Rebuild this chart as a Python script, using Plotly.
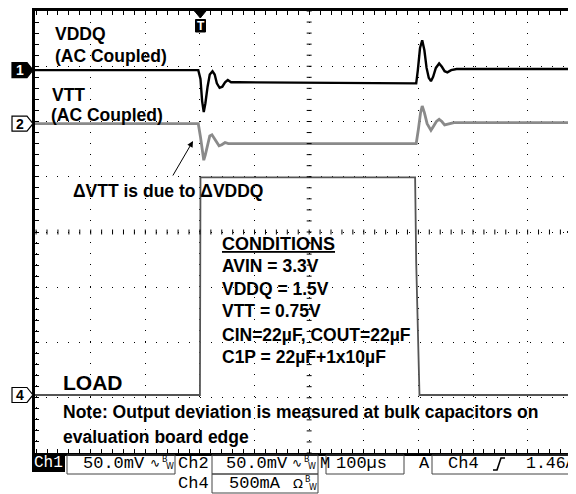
import plotly.graph_objects as go

# ---------------- data read from the scope screen ----------------
# time in microseconds relative to the trigger (100 us / div)
vddq_t = [-302, -3, 1, 4, 7, 10, 14, 18, 23, 27, 31, 36, 41, 46, 51, 57, 70,
          393, 396, 399, 403, 407, 411, 415, 419, 423, 427, 432, 438, 443, 448, 453, 460, 470, 689]
vddq_mv = [0, 0, -8, -28, -38, -30, -15, -4, -1, -4, -12, -16, -15, -11, -9, -11, -11,
           -12, -12, 0, 20, 27, 18, 2, -7, -10, -6, 2, 6, 3, -1, -2, 0, 1, 1]

vtt_t = [-302, -3, 1, 4, 7, 10, 14, 18, 22, 26, 31, 35, 40, 46, 52,
         393, 396, 400, 404, 407, 411, 416, 420, 423, 428, 433, 438, 443, 448, 455, 465, 689]
vtt_mv = [0, 0, -12, -25, -33, -28, -18, -11, -10, -13, -18, -20, -19, -17, -18,
          -18, -18, -5, 10, 16, 10, 0, -4, -6, -2, 2, 4, 2, -1, 0, 1, 1]

load_t = [-302, 0, 1, 394, 396, 402, 689]
load_a = [0, 0, 1.97, 1.97, 1.2, 0, 0]

# channel settings: volts(amps)/div and ground-marker position in divisions
ch_scale = {"ch1": 50.0, "ch2": 50.0, "ch4": 0.5}
ch_pos = {"ch1": 2.93, "ch2": 1.96, "ch4": -2.95}

condition_lines = ["AVIN = 3.3V", "VDDQ = 1.5V", "VTT = 0.75V",
                   "CIN=22µF, COUT=22µF", "C1P = 22µF+1x10µF"]

# ---------------- geometry helpers (page pixels) ----------------
OFF = 8                      # default page body margin
PAGE_W, PAGE_H = 576, 494
W, H = PAGE_W - OFF, PAGE_H - OFF
PL, PT, PR, PB = 35, 11, 576, 453          # plot area in page pixels
L, T = PL - OFF, PT - OFF
R, B = (PAGE_W - PR), (PAGE_H - PB)
PW, PH = PR - PL, PB - PT
X_RANGE = [-302, 688.6]
Y_RANGE = [-4, 4]


def px(x):
    return (x - PL) / PW


def py(y):
    return (PB - y) / PH


def to_div(vals, ch):
    return [ch_pos[ch] + v / ch_scale[ch] for v in vals]


def marker_y(ch):
    return (PT + PB) / 2 - ch_pos[ch] * (PH / 8)


fig = go.Figure()
fig.add_trace(go.Scatter(x=load_t, y=to_div(load_a, "ch4"), mode="lines",
                         line=dict(color="#555555", width=1.8), hoverinfo="skip"))
fig.add_trace(go.Scatter(x=vtt_t, y=to_div(vtt_mv, "ch2"), mode="lines",
                         line=dict(color="#8a8a8a", width=2.8), hoverinfo="skip"))
fig.add_trace(go.Scatter(x=vddq_t, y=to_div(vddq_mv, "ch1"), mode="lines",
                         line=dict(color="#000000", width=2.4), hoverinfo="skip"))

axis_common = dict(showgrid=True, gridcolor="black", gridwidth=1, griddash="1px,10px",
                   showline=True, linecolor="black", linewidth=3, ticks="inside",
                   ticklen=4, tickcolor="black", tickwidth=1, showticklabels=False,
                   zeroline=False, fixedrange=True)
fig.update_xaxes(range=X_RANGE, tick0=-300, dtick=100, mirror="ticks",
                 minor=dict(tick0=-300, dtick=20, ticks="inside", ticklen=4,
                            tickcolor="black", showgrid=False), **axis_common)
fig.update_yaxes(range=Y_RANGE, tick0=0, dtick=1, mirror=False,
                 minor=dict(tick0=0, dtick=0.2, ticks="inside", ticklen=4,
                            tickcolor="black", showgrid=False), **axis_common)

shapes = []
# tick marks on the centre cross
t = -300
while t <= 688:
    shapes.append(dict(type="line", xref="x", yref="y", x0=t, x1=t, y0=-0.045, y1=0.045,
                       line=dict(color="black", width=1)))
    t += 20
k = -20
while k <= 20:
    yv = k * 0.2
    shapes.append(dict(type="line", xref="x", yref="y", x0=195.5, x1=204.5, y0=yv, y1=yv,
                       line=dict(color="black", width=1)))
    k += 1


def path(points, close=True):
    s = "M " + " L ".join(f"{px(a):.5f},{py(b):.5f}" for a, b in points)
    return s + (" Z" if close else "")


# channel ground markers
for name, filled in (("ch1", True), ("ch2", False), ("ch4", False)):
    yc = marker_y(name)
    pts = [(12, yc - 7.5), (27, yc - 7.5), (33, yc), (27, yc + 7.5), (12, yc + 7.5)]
    shapes.append(dict(type="path", xref="paper", yref="paper", path=path(pts),
                       fillcolor="black" if filled else "white",
                       line=dict(color="black", width=1.2)))

# trigger position marker (top) and trigger level marker (right)
shapes.append(dict(type="path", xref="paper", yref="paper",
                   path=path([(194.5, 11), (206, 11), (200.3, 18)]),
                   fillcolor="black", line=dict(color="black", width=1)))
shapes.append(dict(type="rect", xref="paper", yref="paper",
                   x0=px(195.5), x1=px(205.5), y0=py(19.5), y1=py(32),
                   fillcolor="black", line=dict(color="black", width=1)))
shapes.append(dict(type="path", xref="paper", yref="paper",
                   path=path([(577, 225.5), (577, 238.5), (567, 232)]),
                   fillcolor="black", line=dict(color="black", width=1)))

# status bar boxes
shapes.append(dict(type="rect", xref="paper", yref="paper", x0=px(32), x1=px(65),
                   y0=py(455), y1=py(472), fillcolor="black", line=dict(width=0)))
for (x0, x1, y0, y1) in [(67, 175, 455, 474), (212, 318, 455, 474), (326, 404, 455, 474),
                         (432, 590, 455, 474), (212, 318, 474, 493)]:
    shapes.append(dict(type="rect", xref="paper", yref="paper", x0=px(x0), x1=px(x1),
                       y0=py(y0), y1=py(y1), fillcolor="rgba(0,0,0,0)",
                       line=dict(color="#444444", width=1)))
# rising-edge trigger symbol
shapes.append(dict(type="path", xref="paper", yref="paper",
                   path=path([(493, 470), (497, 470), (501, 458), (505, 458)], close=False),
                   line=dict(color="black", width=1.6)))

annotations = []


def label(text, x, y, size=17.5, color="black", family="Liberation Sans", xanchor="left"):
    annotations.append(dict(text=text, x=px(x), y=py(y), xref="paper", yref="paper",
                            xanchor=xanchor, yanchor="middle", showarrow=False,
                            font=dict(family=family, size=size, color=color)))


label("<b>VDDQ</b>", 53, 34)
label("<b>(AC Coupled)</b>", 53, 56)
label("<b>VTT</b>", 50, 95)
label("<b>(AC Coupled)</b>", 49, 115)
label("<b>ΔVTT is due to ΔVDDQ</b>", 71, 191)
label("<b><u>CONDITIONS</u></b>", 220, 244, size=18)
for text, yy in zip(condition_lines, [266, 289, 311, 335, 357]):
    label(f"<b>{text}</b>", 220, yy)
label("<b>LOAD</b>", 61, 382, size=21)
label("<b>Note: Output deviation is measured at bulk capacitors on</b>", 61, 412)
label("<b>evaluation board edge</b>", 61, 437)

# channel marker numbers
for name, num, col in (("ch1", "1", "white"), ("ch2", "2", "black"), ("ch4", "4", "black")):
    label(f"<b>{num}</b>", 20, marker_y(name), size=14, color=col, xanchor="center")

label("<b>T</b>", 200.5, 26, size=12, color="white", xanchor="center")

# arrow
annotations.append(dict(x=px(193), y=py(141), xref="paper", yref="paper", ax=-21, ay=36,
                        axref="pixel", ayref="pixel", showarrow=True, arrowhead=2,
                        arrowsize=1.2, arrowwidth=1, arrowcolor="black", text=""))

# status bar text
MONO = "Liberation Mono"
label("Ch1", 48.5, 463, size=16, color="white", family=MONO, xanchor="center")
label("50.0mV", 81, 464, size=17, family=MONO)
label("∿", 148, 463, size=12, family="DejaVu Sans")
label("B", 160, 459, size=8, family="DejaVu Sans")
label("W", 164, 467, size=8, family="DejaVu Sans")
label("Ch2", 176, 464, size=17, family=MONO)
label("50.0mV", 224, 464, size=17, family=MONO)
label("∿", 290, 463, size=12, family="DejaVu Sans")
label("B", 302, 459, size=8, family="DejaVu Sans")
label("W", 306, 467, size=8, family="DejaVu Sans")
label("M", 318, 464, size=17, family=MONO)
label("100µs", 334, 464, size=17, family=MONO)
label("A", 417, 464, size=17, family=MONO)
label("Ch4", 446, 464, size=17, family=MONO)
label("1.46A", 524, 464, size=16.5, family=MONO)
label("Ch4", 176, 483, size=17, family=MONO)
label("500mA", 227, 483, size=17, family=MONO)
label("Ω", 291, 483, size=13, family="DejaVu Sans")
label("B", 303, 479, size=8, family="DejaVu Sans")
label("W", 307, 487, size=8, family="DejaVu Sans")

fig.update_layout(width=W, height=H, margin=dict(l=L, r=R, t=T, b=B),
                  paper_bgcolor="white", plot_bgcolor="white", showlegend=False,
                  shapes=shapes, annotations=annotations)

fig.write_html("out.html")
